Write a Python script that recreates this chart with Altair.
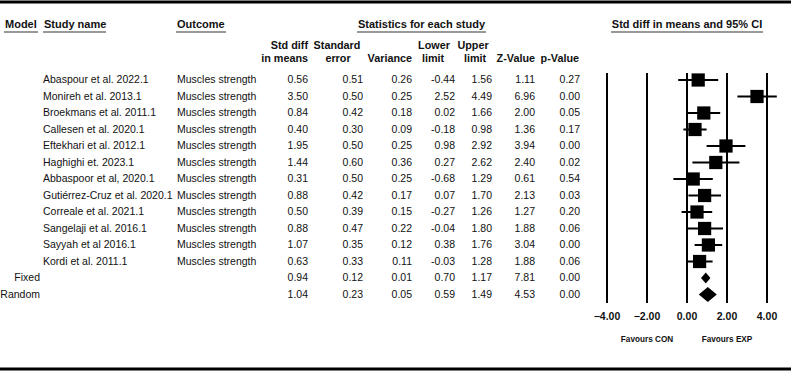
import altair as alt
import pandas as pd

# ---- study-level results -------------------------------------------------
studies = [
    "Abaspour et al. 2022.1", "Monireh et al. 2013.1", "Broekmans et al. 2011.1",
    "Callesen et al. 2020.1", "Eftekhari et al. 2012.1", "Haghighi et. 2023.1",
    "Abbaspoor et al, 2020.1", "Gutiérrez-Cruz et al. 2020.1", "Correale et al. 2021.1",
    "Sangelaji et al. 2016.1", "Sayyah et al 2016.1", "Kordi et al. 2011.1",
]
outcome = "Muscles strength"
std_diff = [0.56, 3.50, 0.84, 0.40, 1.95, 1.44, 0.31, 0.88, 0.50, 0.88, 1.07, 0.63]
std_err = [0.51, 0.50, 0.42, 0.30, 0.50, 0.60, 0.50, 0.42, 0.39, 0.47, 0.35, 0.33]
variance = [0.26, 0.25, 0.18, 0.09, 0.25, 0.36, 0.25, 0.17, 0.15, 0.22, 0.12, 0.11]
lower = [-0.44, 2.52, 0.02, -0.18, 0.98, 0.27, -0.68, 0.07, -0.27, -0.04, 0.38, -0.03]
upper = [1.56, 4.49, 1.66, 0.98, 2.92, 2.62, 1.29, 1.70, 1.26, 1.80, 1.76, 1.28]
z_value = [1.11, 6.96, 2.00, 1.36, 3.94, 2.40, 0.61, 2.13, 1.27, 1.88, 3.04, 1.88]
p_value = [0.27, 0.00, 0.05, 0.17, 0.00, 0.02, 0.54, 0.03, 0.20, 0.06, 0.00, 0.06]

# ---- pooled estimates ----------------------------------------------------
models = ["Fixed", "Random"]
pooled_diff = [0.94, 1.04]
pooled_se = [0.12, 0.23]
pooled_var = [0.01, 0.05]
pooled_lower = [0.70, 0.59]
pooled_upper = [1.17, 1.49]
pooled_z = [7.81, 4.53]
pooled_p = [0.00, 0.00]

axis_ticks = [-4, -2, 0, 2, 4]
favours = ["Favours CON", "Favours EXP"]
favours_at = [-2, 2]

# ---- layout --------------------------------------------------------------
W, H = 794, 371
FONT = "Liberation Sans"
ROW0, STEP = 80.0, 16.5            # pixel centre of first row, row pitch
Y0 = -ROW0 / STEP
Y1 = Y0 + H / STEP
yscale = alt.Scale(domain=[Y0, Y1], range=[0, H], nice=False, zero=False)
xscale = alt.Scale(domain=[-4, 4], range=[607, 767], nice=False, zero=False)
DIAMOND_HALF = {"Fixed": 0.33, "Random": 0.45}   # half height in row units


def fmt(v):
    return f"{v:.2f}"


records = []
for i, name in enumerate(studies):
    records.append(dict(row=i, kind="study", model="", study=name, outcome=outcome,
                        d=std_diff[i], lo=lower[i], hi=upper[i],
                        d_s=fmt(std_diff[i]), se_s=fmt(std_err[i]), var_s=fmt(variance[i]),
                        lo_s=fmt(lower[i]), hi_s=fmt(upper[i]),
                        z_s=fmt(z_value[i]), p_s=fmt(p_value[i])))
for j, m in enumerate(models):
    records.append(dict(row=len(studies) + j, kind="pooled", model=m, study="", outcome="",
                        d=pooled_diff[j], lo=pooled_lower[j], hi=pooled_upper[j],
                        d_s=fmt(pooled_diff[j]), se_s=fmt(pooled_se[j]), var_s=fmt(pooled_var[j]),
                        lo_s=fmt(pooled_lower[j]), hi_s=fmt(pooled_upper[j]),
                        z_s=fmt(pooled_z[j]), p_s=fmt(pooled_p[j])))
table = pd.DataFrame(records)
study_df = table[table.kind == "study"]
pooled_df = table[table.kind == "pooled"]

# diamond outline points for pooled rows
diamond_pts = []
for _, r in pooled_df.iterrows():
    h = DIAMOND_HALF[r.model]
    diamond_pts += [
        dict(model=r.model, x=r.lo, top=r.row, bot=r.row),
        dict(model=r.model, x=r.d, top=r.row - h, bot=r.row + h),
        dict(model=r.model, x=r.hi, top=r.row, bot=r.row),
    ]
diamond_df = pd.DataFrame(diamond_pts)

Y = alt.Y("row:Q", scale=yscale, axis=None)


def column(field, xpx, align):
    return alt.Chart(table).mark_text(
        align=align, baseline="middle", font=FONT, fontSize=10.5, color="#111"
    ).encode(x=alt.value(xpx), y=Y, text=f"{field}:N")


def label(text, x, y, align="left", size=11, bold=True):
    return alt.Chart(pd.DataFrame({"t": [text]})).mark_text(
        align=align, baseline="middle", font=FONT, fontSize=size,
        fontWeight="bold" if bold else "normal", color="#111"
    ).encode(x=alt.value(x), y=alt.value(y), text="t:N")


def hrule(x1, x2, y, width, color="black"):
    return alt.Chart(pd.DataFrame({"a": [0]})).mark_rule(
        strokeWidth=width, color=color
    ).encode(x=alt.value(x1), x2=alt.value(x2), y=alt.value(y))


layers = [
    hrule(0, 791, 2, 3),
    hrule(0, 791, 369, 3),
    # column headers
    label("Model", 5, 25), hrule(4, 38, 32, 1, "#333"),
    label("Study name", 44, 25), hrule(43, 106, 32, 1, "#333"),
    label("Outcome", 177, 25), hrule(176, 226, 32, 1, "#333"),
    label("Statistics for each study", 421.5, 25, "center"), hrule(357, 486, 32, 1, "#333"),
    label("Std diff in means and 95% CI", 687, 25, "center"), hrule(611, 763, 32, 1, "#333"),
    label("Std diff", 308, 46, "right", 10.8), label("in means", 308, 59, "right", 10.8),
    label("Standard", 337, 46, "center", 10.8), label("error", 338, 59, "center", 10.8),
    label("Variance", 412, 59, "right", 10.8),
    label("Lower", 434, 46, "center", 10.8), label("limit", 433, 59, "center", 10.8),
    label("Upper", 473, 46, "center", 10.8), label("limit", 475, 59, "center", 10.8),
    label("Z-Value", 535, 59, "right", 10.8),
    label("p-Value", 579, 59, "right", 10.8),
    # table body
    column("model", 40, "right"),
    column("study", 43, "left"),
    column("outcome", 177, "left"),
    column("d_s", 308, "right"),
    column("se_s", 363, "right"),
    column("var_s", 412, "right"),
    column("lo_s", 455, "right"),
    column("hi_s", 492, "right"),
    column("z_s", 535, "right"),
    column("p_s", 580, "right"),
]

# forest plot
grid = alt.Chart(pd.DataFrame({"tick": axis_ticks})).mark_rule(
    color="black", strokeWidth=2
).encode(x=alt.X("tick:Q", scale=xscale, axis=None), y=alt.value(73), y2=alt.value(303))

tick_text = alt.Chart(pd.DataFrame({"tick": axis_ticks})).mark_text(
    font=FONT, fontSize=10.5, fontWeight="bold", baseline="middle", color="#111"
).encode(x=alt.X("tick:Q", scale=xscale, axis=None), y=alt.value(317),
         text=alt.Text("tick:Q", format=".2f"))

fav_text = alt.Chart(pd.DataFrame({"label": favours, "at": favours_at})).mark_text(
    font=FONT, fontSize=8.2, fontWeight="bold", baseline="middle", color="#111"
).encode(x=alt.X("at:Q", scale=xscale, axis=None), y=alt.value(340), text="label:N")

ci = alt.Chart(study_df).mark_rule(color="black", strokeWidth=2).encode(
    x=alt.X("lo:Q", scale=xscale, axis=None), x2="hi:Q", y=Y
)

boxes = alt.Chart(study_df).mark_square(size=175, filled=True, color="black", opacity=1).encode(
    x=alt.X("d:Q", scale=xscale, axis=None), y=Y
)

diamonds = alt.Chart(diamond_df).mark_area(color="black", orient="vertical", opacity=1).encode(
    x=alt.X("x:Q", scale=xscale, axis=None),
    y=alt.Y("top:Q", scale=yscale, axis=None),
    y2="bot:Q",
    detail="model:N",
)

layers += [grid, ci, boxes, diamonds, tick_text, fav_text]

chart = alt.layer(*layers).properties(
    width=W, height=H, padding=0, autosize=alt.AutoSizeParams(type="none")
).configure_view(stroke=None)

chart.save("out.html", embed_options={"renderer": "svg", "actions": False})
